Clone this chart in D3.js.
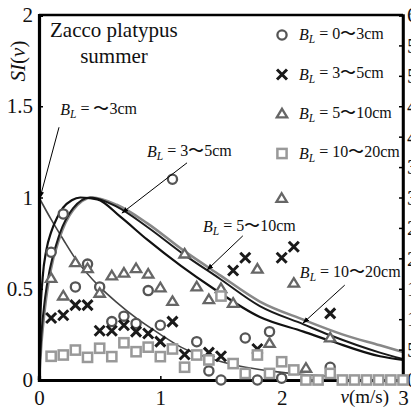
<!DOCTYPE html>
<html>
<head>
<meta charset="utf-8">
<script src="https://cdn.jsdelivr.net/npm/d3@7"></script>
<style>
  html, body { margin: 0; padding: 0; background: #fff; }
  svg { display: block; }
  text { font-family: "Liberation Serif", "Times New Roman", serif; fill: #111; }
</style>
</head>
<body>
<svg id="chart" width="411" height="414"></svg>
<script>
// ---- data: suitability index SI(v) of Zacco platypus (summer) by body length class ----
const vGrid = [0.1,0.2,0.3,0.4,0.5,0.6,0.7,0.8,0.9,1.0,1.1,1.2,1.3,1.4,1.5,1.6,1.7,1.8,1.9,2.0,2.1,2.2,2.3,2.4,2.5,2.6,2.7,2.8,2.9,3.0];

// observed points, B_L = 0~3cm (circles)
const circleV  = [0.1,0.2,0.3,0.4,0.5,0.6,0.7,0.8,0.9,1.0,1.1,1.3,1.4,1.5,1.7,1.8,1.9,2.0,2.4];
const circleSI = [0.70,0.91,0.51,0.635,0.51,0.32,0.35,0.31,0.49,0.30,1.10,0.21,0.05,0.00,0.23,0.00,0.265,0.01,0.07];

// observed points, B_L = 3~5cm (crosses)
const crossV  = [0.1,0.2,0.3,0.4,0.5,0.6,0.7,0.8,0.9,1.0,1.1,1.2,1.4,1.5,1.6,1.7,1.8,2.0,2.1,2.4];
const crossSI = [0.34,0.355,0.41,0.41,0.27,0.27,0.30,0.265,0.255,0.21,0.32,0.14,0.15,0.13,0.60,0.67,0.17,0.67,0.73,0.365];

// observed points, B_L = 5~10cm (triangles)
const triV  = [0.1,0.2,0.3,0.4,0.5,0.6,0.7,0.8,0.9,1.0,1.1,1.2,1.3,1.4,1.5,1.6,1.8,1.9,2.0,2.1,2.2,2.4];
const triSI = [0.557,0.46,0.643,0.61,0.475,0.57,0.585,0.61,0.58,0.505,0.43,0.69,0.51,0.44,0.50,0.42,0.607,0.20,0.995,0.53,0.064,0.23];

// observed points, B_L = 10~20cm (squares)
const sqV  = vGrid;
const sqSI = [0.13,0.137,0.164,0.124,0.174,0.128,0.204,0.155,0.18,0.128,0.17,0.07,0.137,0.11,0.46,0.09,0.036,0.137,0.036,0.10,0.055,0,0,0.036,0,0,0,0,0,0];

// fitted curves
const fitSmallV  = [0,0.1,0.2,0.3,0.5,0.65,0.8,1.0,1.17,1.4,1.66,1.9,2.18,2.4];
const fitSmallSI = [1,0.88,0.77,0.665,0.51,0.42,0.34,0.25,0.18,0.12,0.075,0.05,0.03,0.02];

const fit35V  = [0,0.01,0.03,0.06,0.1,0.15,0.2,0.27,0.34,0.48,0.67,0.89,1.17,1.44,1.82,2.18,2.4,2.81,3.0];
const fit35SI = [0,0.32,0.56,0.71,0.81,0.89,0.945,0.985,1.0,0.99,0.895,0.77,0.625,0.50,0.345,0.265,0.215,0.13,0.11];

const fit510V  = [0,0.02,0.05,0.09,0.17,0.28,0.42,0.64,0.89,1.19,1.49,1.82,2.18,2.4,2.81,3.0];
const fit510SI = [0,0.25,0.45,0.61,0.80,0.94,1.0,0.95,0.84,0.69,0.555,0.405,0.305,0.245,0.15,0.115];

const fit1020V  = [0,0.02,0.05,0.09,0.17,0.28,0.44,0.64,0.89,1.19,1.49,1.82,2.18,2.5,2.81,3.0];
const fit1020SI = [0,0.2,0.4,0.58,0.78,0.93,1.0,0.96,0.86,0.71,0.575,0.43,0.33,0.25,0.19,0.153];

const yTicks = [0, 0.5, 1, 1.5, 2];
const xTicks = [0, 1, 2, 3];
const rightTicks = d3.range(0, 61, 5);

const legendLabels = ["0〜3cm", "3〜5cm", "5〜10cm", "10〜20cm"];
const legendKinds  = ["circle", "cross", "triangle", "square"];

// curve annotations: label anchor and arrow tip in data units
const notes = [
  { text: "〜3cm",    tx: 0.175, ty: 1.452, fromV: 0.165, fromSI: 1.385, toV: 0.008, toSI: 0.997 },
  { text: "3〜5cm",   tx: 0.89,  ty: 1.222, fromV: 1.22,  fromSI: 1.19,  toV: 0.684, toSI: 0.915 },
  { text: "5〜10cm",  tx: 1.352, ty: 0.811, fromV: 1.68,  fromSI: 0.79,  toV: 1.385, toSI: 0.603 },
  { text: "10〜20cm", tx: 2.15,  ty: 0.559, fromV: 2.52,  fromSI: 0.52,  toV: 2.176, toSI: 0.312 }
];

// ---- drawing ----
const svg = d3.select("#chart");
const x = d3.scaleLinear().domain([0, 3]).range([39, 403]);
const y = d3.scaleLinear().domain([0, 2]).range([380, 15]);
const yR = d3.scaleLinear().domain([0, 60]).range([380, 15]);

const zip = (a, b) => a.map((v, i) => [v, b[i]]);
const line = d3.line().x(d => x(d[0])).y(d => y(d[1])).curve(d3.curveMonotoneX);

// fitted curves
svg.append("path").datum(zip(fitSmallV, fitSmallSI)).attr("d", line)
  .attr("fill", "none").attr("stroke", "#444").attr("stroke-width", 1.6);
svg.append("path").datum(zip(fit1020V, fit1020SI)).attr("d", line)
  .attr("fill", "none").attr("stroke", "#888").attr("stroke-width", 2.6);
svg.append("path").datum(zip(fit510V, fit510SI)).attr("d", line)
  .attr("fill", "none").attr("stroke", "#1a1a1a").attr("stroke-width", 2);
svg.append("path").datum(zip(fit35V, fit35SI)).attr("d", line)
  .attr("fill", "none").attr("stroke", "#111").attr("stroke-width", 2.2);

// axes frame
const frame = svg.append("g");
frame.append("line").attr("x1", x(0)).attr("x2", x(3)).attr("y1", y(2)).attr("y2", y(2))
  .attr("stroke", "#000").attr("stroke-width", 2.5);
frame.append("line").attr("x1", x(3)).attr("x2", x(3)).attr("y1", y(2)).attr("y2", y(0))
  .attr("stroke", "#000").attr("stroke-width", 2.5);

const gx = svg.append("g").attr("transform", `translate(0,${y(0)})`)
  .call(d3.axisBottom(x).tickValues(xTicks).tickSize(-4).tickPadding(10).tickFormat(d3.format("d")));
const gy = svg.append("g").attr("transform", `translate(${x(0)},0)`)
  .call(d3.axisLeft(y).tickValues(yTicks).tickSize(-4).tickPadding(6).tickFormat(d => d));
const gr = svg.append("g").attr("transform", `translate(${x(3)},0)`)
  .call(d3.axisRight(yR).tickValues(rightTicks).tickSize(-4).tickPadding(4).tickFormat(d3.format("d")));

[gx, gy, gr].forEach(g => {
  g.select(".domain").attr("stroke", "#000");
  g.selectAll(".tick line").attr("stroke", "#000").attr("stroke-width", 1.5);
  g.selectAll(".tick text").attr("font-family", "Liberation Serif").attr("font-size", 21).attr("fill", "#111");
});
gx.select(".domain").attr("stroke-width", 3.2);
gy.select(".domain").attr("stroke-width", 3.2);
gr.select(".domain").attr("stroke-width", 2.5);
gx.selectAll(".tick text").attr("dy", "0.71em");
gx.selectAll(".tick").filter(d => d === 3).select("text").attr("text-anchor", "middle");

// axis titles
const ty = svg.append("text").attr("transform", `translate(25,61) rotate(-90)`)
  .attr("text-anchor", "middle").attr("font-size", 21);
ty.append("tspan").attr("font-style", "italic").text("SI");
ty.append("tspan").text("(");
ty.append("tspan").attr("font-style", "italic").text("v");
ty.append("tspan").text(")");

const tx = svg.append("text").attr("x", 389).attr("y", 403).attr("text-anchor", "end").attr("font-size", 19);
tx.append("tspan").attr("font-style", "italic").text("v");
tx.append("tspan").text("(m/s)");

// title
svg.append("text").attr("x", 50).attr("y", 37).attr("font-size", 21).text("Zacco platypus");
svg.append("text").attr("x", 114).attr("y", 63).attr("font-size", 21).attr("text-anchor", "middle").text("summer");

// markers
const styles = {
  circle:   { stroke: "#555", width: 2.3 },
  cross:    { stroke: "#1a1a1a", width: 3 },
  triangle: { stroke: "#666", width: 2.3 },
  square:   { stroke: "#999", width: 2.5 }
};
function marker(g, kind, cx, cy) {
  const s = styles[kind];
  if (kind === "circle") {
    g.append("circle").attr("cx", cx).attr("cy", cy).attr("r", 4.6)
      .attr("fill", "#fff").attr("stroke", s.stroke).attr("stroke-width", s.width);
  } else if (kind === "square") {
    g.append("rect").attr("x", cx - 4.6).attr("y", cy - 4.6).attr("width", 9.2).attr("height", 9.2)
      .attr("fill", "#fff").attr("stroke", s.stroke).attr("stroke-width", s.width);
  } else if (kind === "triangle") {
    const h = 8.6, w = 5.2;
    g.append("path").attr("d", `M${cx},${cy - h * 0.6}L${cx + w},${cy + h * 0.4}L${cx - w},${cy + h * 0.4}Z`)
      .attr("fill", "#fff").attr("stroke", s.stroke).attr("stroke-width", s.width).attr("stroke-linejoin", "miter");
  } else {
    const r = 5;
    g.append("path").attr("d", `M${cx - r},${cy - r}L${cx + r},${cy + r}M${cx - r},${cy + r}L${cx + r},${cy - r}`)
      .attr("fill", "none").attr("stroke", s.stroke).attr("stroke-width", s.width);
  }
}
const pts = svg.append("g");
zip(circleV, circleSI).forEach(d => marker(pts, "circle", x(d[0]), y(d[1])));
zip(triV, triSI).forEach(d => marker(pts, "triangle", x(d[0]), y(d[1])));
zip(crossV, crossSI).forEach(d => marker(pts, "cross", x(d[0]), y(d[1])));
zip(sqV, sqSI).forEach(d => marker(pts, "square", x(d[0]), y(d[1])));

// B_L label helper
function blLabel(sel, rest) {
  sel.append("tspan").attr("font-style", "italic").text("B");
  sel.append("tspan").attr("font-style", "italic").attr("font-size", "0.72em").attr("dy", "0.3em").text("L");
  sel.append("tspan").attr("dy", "-0.3em").text(" = " + rest);
}

// legend
const legend = svg.append("g");
legendKinds.forEach((k, i) => {
  const ly = 35 + i * 39.5;
  marker(legend, k, 282, ly);
  blLabel(legend.append("text").attr("x", 299).attr("y", ly + 5).attr("font-size", 16), legendLabels[i]);
});

// annotations with leader arrows
svg.append("defs").append("marker").attr("id", "arr").attr("viewBox", "0 0 10 10")
  .attr("refX", 9).attr("refY", 5).attr("markerWidth", 7).attr("markerHeight", 7)
  .attr("orient", "auto").append("path").attr("d", "M0,1.5L10,5L0,8.5Z").attr("fill", "#000");
const ann = svg.append("g");
notes.forEach(n => {
  ann.append("line").attr("x1", x(n.fromV)).attr("y1", y(n.fromSI)).attr("x2", x(n.toV)).attr("y2", y(n.toSI))
    .attr("stroke", "#000").attr("stroke-width", 1).attr("marker-end", "url(#arr)");
  blLabel(ann.append("text").attr("x", x(n.tx)).attr("y", y(n.ty)).attr("font-size", 16), n.text);
});
</script>
</body>
</html>
